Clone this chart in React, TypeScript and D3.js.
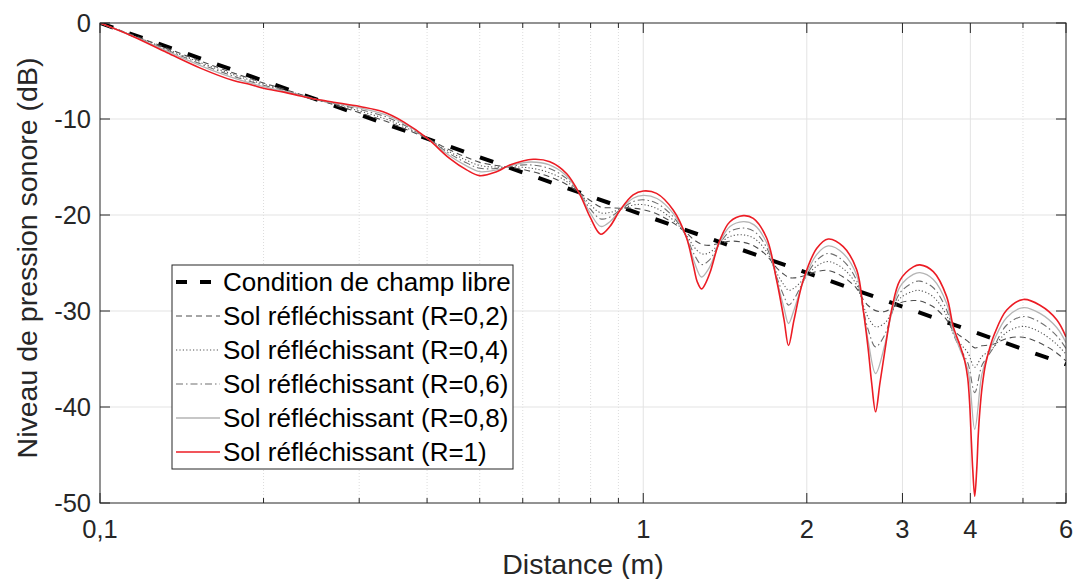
import React from "react";
import * as d3 from "d3";

// ---------- data ----------
const ffDist = [0.1, 6];
const ffLevel = [0, -35.56];

// shared distance grid for R = 0.2 ... 0.8
const gridDist = [
  0.1, 0.12, 0.14, 0.16, 0.18, 0.2, 0.22, 0.25, 0.28, 0.31, 0.335, 0.36, 0.4, 0.44, 0.47, 0.5,
  0.537, 0.57, 0.62, 0.67, 0.72, 0.765, 0.8, 0.835, 0.87, 0.906, 0.958, 1.0, 1.06, 1.136, 1.2,
  1.24, 1.28, 1.32, 1.384, 1.444, 1.528, 1.6, 1.687, 1.76, 1.816, 1.851, 1.895, 1.97, 2.085,
  2.19, 2.334, 2.471, 2.541, 2.596, 2.677, 2.785, 2.865, 2.968, 3.141, 3.231, 3.419, 3.618,
  3.72, 3.827, 3.96, 4.075, 4.2, 4.3, 4.41, 4.667, 5.006, 5.373, 5.768, 6.0,
];
const levelR08 = [
  0, -1.81, -3.5, -4.88, -5.9, -6.63, -7.16, -7.96, -8.49, -9.02, -9.55, -10.36, -12.01, -13.83,
  -14.81, -15.48, -15.3, -14.85, -14.48, -14.76, -15.86, -17.85, -19.86, -21.19, -20.65, -19.51,
  -18.26, -17.95, -18.28, -19.86, -22.3, -24.81, -26.46, -25.59, -22.81, -21.21, -20.69, -21.03,
  -22.9, -26.71, -29.7, -31.3, -29.87, -26.96, -24.12, -23.22, -24.01, -26.29, -30.0, -33.21,
  -36.51, -33.47, -30.24, -27.48, -26.19, -26.0, -26.71, -29.21, -32.1, -33.99, -36.13, -42.32,
  -36.6, -34.7, -33.2, -30.68, -29.65, -30.25, -31.72, -33.3,
];
const levelR06 = [
  0, -1.75, -3.36, -4.69, -5.72, -6.49, -7.09, -7.96, -8.59, -9.2, -9.75, -10.53, -12.01, -13.61,
  -14.5, -15.13, -15.14, -14.91, -14.78, -15.14, -16.14, -17.81, -19.42, -20.41, -20.19, -19.48,
  -18.61, -18.42, -18.79, -20.21, -22.23, -24.07, -25.16, -24.76, -22.95, -21.73, -21.36, -21.71,
  -23.39, -26.45, -28.47, -29.39, -28.74, -26.93, -24.74, -24.0, -24.77, -26.84, -29.83, -32.0,
  -33.74, -32.44, -30.32, -28.12, -27.03, -26.89, -27.58, -29.89, -32.35, -33.87, -35.44, -38.5,
  -35.68, -34.77, -33.83, -31.46, -30.57, -31.17, -32.58, -33.9,
];
const levelR04 = [
  0, -1.71, -3.25, -4.54, -5.56, -6.37, -7.03, -7.96, -8.7, -9.39, -9.98, -10.71, -12.02, -13.42,
  -14.23, -14.84, -15.01, -14.98, -15.11, -15.57, -16.45, -17.77, -18.96, -19.78, -19.72, -19.41,
  -18.96, -18.92, -19.33, -20.54, -22.07, -23.32, -24.04, -23.95, -22.99, -22.24, -22.07, -22.43,
  -23.83, -26.03, -27.29, -27.83, -27.62, -26.72, -25.34, -24.85, -25.59, -27.3, -29.41, -30.7,
  -31.65, -31.25, -30.14, -28.69, -27.94, -27.86, -28.53, -30.47, -32.31, -33.36, -34.37, -35.86,
  -34.74, -34.31, -33.81, -32.21, -31.6, -32.2, -33.47, -34.5,
];
const levelR02 = [
  0, -1.66, -3.13, -4.37, -5.39, -6.24, -6.96, -7.96, -8.8, -9.59, -10.21, -10.9, -12.03, -13.21,
  -13.93, -14.52, -14.85, -15.04, -15.44, -15.99, -16.76, -17.73, -18.51, -19.18, -19.25, -19.29,
  -19.3, -19.45, -19.9, -20.84, -21.86, -22.58, -23.04, -23.16, -22.95, -22.73, -22.84, -23.22,
  -24.22, -25.51, -26.19, -26.5, -26.55, -26.36, -25.89, -25.78, -26.45, -27.66, -28.81, -29.45,
  -29.96, -30.05, -29.73, -29.15, -28.91, -28.96, -29.56, -30.92, -31.97, -32.58, -33.16, -33.84,
  -33.62, -33.57, -33.47, -32.87, -32.73, -33.34, -34.37, -35.2,
];

const distR1 = [
  0.1, 0.115, 0.133, 0.153, 0.176, 0.189, 0.2, 0.218, 0.234, 0.25, 0.269, 0.301, 0.332, 0.362,
  0.4, 0.44, 0.473, 0.5, 0.537, 0.568, 0.627, 0.673, 0.723, 0.765, 0.798, 0.835, 0.868, 0.906,
  0.958, 1.0, 1.058, 1.136, 1.2, 1.236, 1.258, 1.28, 1.3, 1.327, 1.384, 1.444, 1.528, 1.594,
  1.687, 1.76, 1.816, 1.851, 1.895, 1.97, 2.085, 2.19, 2.334, 2.471, 2.541, 2.596, 2.633, 2.677,
  2.727, 2.785, 2.865, 2.968, 3.141, 3.231, 3.419, 3.618, 3.72, 3.834, 3.906, 3.956, 3.99, 4.017,
  4.041, 4.075, 4.11, 4.136, 4.166, 4.207, 4.264, 4.34, 4.43, 4.667, 5.006, 5.373, 5.768, 6.0,
];
const levelR1 = [
  0, -1.4, -3.1, -4.7, -6.0, -6.4, -6.8, -7.2, -7.6, -7.95, -8.25, -8.7, -9.25, -10.3, -12.0,
  -14.1, -15.3, -15.9, -15.5, -14.8, -14.2, -14.45, -15.7, -17.9, -20.2, -22.0, -21.2, -19.5,
  -17.9, -17.5, -17.75, -19.5, -22.3, -25.2, -27.0, -27.7, -27.2, -26.0, -22.6, -20.7, -20.07,
  -20.35, -22.4, -26.8, -30.9, -33.6, -30.9, -26.8, -23.5, -22.5, -23.3, -25.7, -29.9, -34.1,
  -37.5, -40.5, -37.5, -34.1, -29.9, -26.8, -25.4, -25.2, -25.9, -28.5, -31.6, -33.7, -35.2,
  -37.0, -39.8, -43.5, -46.5, -49.3, -46.5, -43.0, -40.3, -37.8, -35.6, -33.9, -32.4, -29.9,
  -28.8, -29.4, -30.9, -32.7,
];

const legendLabels = [
  "Condition de champ libre",
  "Sol réfléchissant (R=0,2)",
  "Sol réfléchissant (R=0,4)",
  "Sol réfléchissant (R=0,6)",
  "Sol réfléchissant (R=0,8)",
  "Sol réfléchissant (R=1)",
];

const xTickValues = [0.1, 1, 2, 3, 4, 6];
const xTickLabels = ["0,1", "1", "2", "3", "4", "6"];
const xMinorTicks = [0.2, 0.3, 0.4, 0.5, 0.6, 0.7, 0.8, 0.9, 5];
const yTickValues = [0, -10, -20, -30, -40, -50];
const yTickLabels = ["0", "-10", "-20", "-30", "-40", "-50"];

// ---------- layout ----------
const W = 1073;
const H = 579;
const L = 100, R = 1066, T = 23, B = 503;
const FONT = "'Liberation Sans', Arial, Helvetica, sans-serif";
const AX = "#262626";

const styles = [
  { color: "#000000", width: 4, dash: "14 17" },
  { color: "#4d4d4d", width: 1.1, dash: "6 4" },
  { color: "#555555", width: 1.1, dash: "1.2 2.2" },
  { color: "#6e6e6e", width: 1.1, dash: "7 3 1.5 3" },
  { color: "#b4b4b4", width: 1.3, dash: "" },
  { color: "#ec1c24", width: 1.6, dash: "" },
];

export default function App() {
  const x = d3.scaleLog().domain([0.1, 6]).range([L, R]);
  const y = d3.scaleLinear().domain([-50, 0]).range([B, T]);

  const mk = (xs: number[], ys: number[], curve: any) =>
    d3
      .line<number>()
      .x((_, i) => x(xs[i]))
      .y((v) => y(v))
      .curve(curve)(ys) as string;

  const series = [
    { xs: ffDist, ys: ffLevel },
    { xs: gridDist, ys: levelR02 },
    { xs: gridDist, ys: levelR04 },
    { xs: gridDist, ys: levelR06 },
    { xs: gridDist, ys: levelR08 },
    { xs: distR1, ys: levelR1 },
  ];

  const legX = 172, legY = 265, legW = 341, legH = 204;
  const rowH = legH / 6;

  return (
    <svg
      width={W}
      height={H}
      style={{ position: "absolute", left: 0, top: 0, background: "#fff" }}
      fontFamily={FONT}
    >
      <defs>
        <clipPath id="plot">
          <rect x={L} y={T} width={R - L} height={B - T} />
        </clipPath>
      </defs>
      <rect x={0} y={0} width={W} height={H} fill="#fff" />

      {/* grid */}
      {xMinorTicks.map((v) => (
        <line key={"mg" + v} x1={x(v)} x2={x(v)} y1={T} y2={B} stroke="#dcdcdc" strokeWidth={1} strokeDasharray="1 2" />
      ))}
      {xTickValues.slice(1, -1).map((v) => (
        <line key={"xg" + v} x1={x(v)} x2={x(v)} y1={T} y2={B} stroke="#e3e3e3" strokeWidth={1} />
      ))}
      {yTickValues.slice(1, -1).map((v) => (
        <line key={"yg" + v} x1={L} x2={R} y1={y(v)} y2={y(v)} stroke="#e3e3e3" strokeWidth={1} />
      ))}

      {/* series */}
      <g clipPath="url(#plot)">
        {series.map((s, i) => (
          <path
            key={"s" + i}
            d={mk(s.xs, s.ys, i === 0 ? d3.curveLinear : d3.curveCatmullRom.alpha(0.5))}
            fill="none"
            stroke={styles[i].color}
            strokeWidth={styles[i].width}
            strokeDasharray={styles[i].dash || undefined}
            strokeLinejoin="round"
          />
        ))}
      </g>

      {/* axes box */}
      <rect x={L} y={T} width={R - L} height={B - T} fill="none" stroke={AX} strokeWidth={1} />

      {/* ticks */}
      {xTickValues.map((v) => (
        <g key={"xt" + v}>
          <line x1={x(v)} x2={x(v)} y1={B} y2={B - 10} stroke={AX} />
          <line x1={x(v)} x2={x(v)} y1={T} y2={T + 10} stroke={AX} />
        </g>
      ))}
      {xMinorTicks.map((v) => (
        <g key={"xm" + v}>
          <line x1={x(v)} x2={x(v)} y1={B} y2={B - 5} stroke={AX} />
          <line x1={x(v)} x2={x(v)} y1={T} y2={T + 5} stroke={AX} />
        </g>
      ))}
      {yTickValues.map((v) => (
        <g key={"yt" + v}>
          <line x1={L} x2={L + 10} y1={y(v)} y2={y(v)} stroke={AX} />
          <line x1={R} x2={R - 10} y1={y(v)} y2={y(v)} stroke={AX} />
        </g>
      ))}

      {/* tick labels */}
      {xTickValues.map((v, i) => (
        <text key={"xl" + v} x={x(v)} y={538} textAnchor="middle" fontSize={25.5} fill={AX}>
          {xTickLabels[i]}
        </text>
      ))}
      {yTickValues.map((v, i) => (
        <text key={"yl" + v} x={91} y={y(v) + 9} textAnchor="end" fontSize={25.5} fill={AX}>
          {yTickLabels[i]}
        </text>
      ))}

      {/* axis labels */}
      <text x={(L + R) / 2} y={574} textAnchor="middle" fontSize={28.5} fill={AX}>
        Distance (m)
      </text>
      <text
        transform={`translate(37,258) rotate(-90)`}
        textAnchor="middle"
        fontSize={28.5}
        fill={AX}
      >
        Niveau de pression sonore (dB)
      </text>

      {/* legend */}
      <rect x={legX} y={legY} width={legW} height={legH} fill="#fff" stroke={AX} strokeWidth={1} />
      {legendLabels.map((lab, i) => {
        const cy = legY + rowH * (i + 0.5);
        return (
          <g key={"lg" + i}>
            <line
              x1={176}
              x2={220}
              y1={cy}
              y2={cy}
              stroke={styles[i].color}
              strokeWidth={i === 0 ? 4 : styles[i].width}
              strokeDasharray={i === 0 ? "11 13" : styles[i].dash || undefined}
            />
            <text x={223} y={cy + 9} fontSize={26} fill="#000">
              {lab}
            </text>
          </g>
        );
      })}
    </svg>
  );
}
